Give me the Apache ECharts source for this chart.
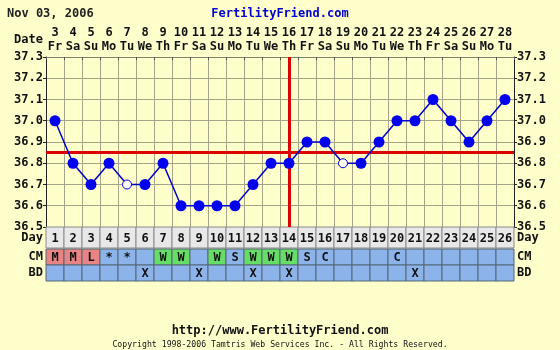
<!DOCTYPE html>
<html><head><meta charset="utf-8">
<script src="https://cdn.jsdelivr.net/npm/echarts@6/dist/echarts.min.js"></script>
<style>html,body{margin:0;padding:0;background:#FFFFCC}#c{width:560px;height:350px}</style>
</head><body><div id="c"></div>
<script>
// ---- data ----
const dates = ['3','4','5','6','7','8','9','10','11','12','13','14','15','16','17','18','19','20','21','22','23','24','25','26','27','28'];
const weekdays = ['Fr','Sa','Su','Mo','Tu','We','Th','Fr','Sa','Su','Mo','Tu','We','Th','Fr','Sa','Su','Mo','Tu','We','Th','Fr','Sa','Su','Mo','Tu'];
const cycleDays = ['1','2','3','4','5','6','7','8','9','10','11','12','13','14','15','16','17','18','19','20','21','22','23','24','25','26'];
const temps = [37.0,36.8,36.7,36.8,36.7,36.7,36.8,36.6,36.6,36.6,36.6,36.7,36.8,36.8,36.9,36.9,36.8,36.8,36.9,37.0,37.0,37.1,37.0,36.9,37.0,37.1];
const openPoints = ['5','17'];          // cycle days drawn as open circles
const coverline = 36.85;
const ovulationDay = '16';               // date of cycle day 14
const cm = ['M','M','L','*','*','','W','W','','W','S','W','W','W','S','C','','','','C','','','','','',''];
const bd = ['','','','','','X','','','X','','','X','','X','','','','','','','X','','','','',''];
const tempTicks = [36.5,37.3,0.1];

const FONT = '"DejaVu Sans Mono", monospace';
const cmColor = {M:'#E88484', L:'#E88484', W:'#66DD66'};
const blue = '#8CB4EA';

const chart = echarts.init(document.getElementById('c'), null, {renderer:'canvas'});

function cellRender(bgFn, border){
  return function(params, api){
    const c = api.coord([api.value(0), api.value(1)]);
    const s = api.size([1,1]);
    const idx = params.dataIndex;
    const txt = api.value(2);
    return {type:'group', children:[
      {type:'rect', shape:{x:c[0]-s[0]/2, y:c[1]-s[1]/2, width:s[0], height:s[1]},
       style:{fill:bgFn(txt), stroke:border, lineWidth:1}},
      {type:'text', style:{text:txt, x:c[0], y:c[1]+1, textAlign:'center', textVerticalAlign:'middle',
       font:'bold 12px '+FONT, fill:'#111'}}
    ]};
  };
}

const dayData = cycleDays.map((d,i)=>[d,'Day',d]);
const cmData = cycleDays.map((d,i)=>[d,'CM',cm[i]]);
const bdData = cycleDays.map((d,i)=>[d,'BD',bd[i]]);

const tempData = temps.map((t,i)=>{
  const open = openPoints.indexOf(cycleDays[i])>=0;
  return open ? {value:t, symbolSize:9, itemStyle:{color:'#FFFFFF', borderColor:'#0000DD', borderWidth:1}} : t;
});

const axisLbl = {fontFamily:FONT, fontWeight:'bold', fontSize:12, color:'#111'};

chart.setOption({
  backgroundColor:'#FFFFCC',
  animation:false,
  title:[
    {text:'Nov 03, 2006', left:2, top:3, textStyle:{fontFamily:FONT, fontWeight:'bold', fontSize:12, color:'#222'}},
    {text:'FertilityFriend.com', left:'center', top:3, textStyle:{fontFamily:FONT, fontWeight:'bold', fontSize:12, color:'#0000CC'}}
  ],
  graphic:[
    {type:'text', left:14, top:34, style:{text:'Date', font:'bold 12px '+FONT, fill:'#111'}},
    {type:'text', left:'center', top:325, style:{text:'http://www.FertilityFriend.com', font:'bold 12px '+FONT, fill:'#111'}},
    {type:'text', left:'center', top:341, style:{text:'Copyright 1998-2006 Tamtris Web Services Inc. - All Rights Reserved.', font:'8.2px '+FONT, fill:'#111'}}
  ],
  grid:[
    {left:46, top:57, width:468, height:170, show:true, backgroundColor:'#FFFFCC', borderWidth:0},
    {left:46, top:227, width:468, height:21},
    {left:46, top:249, width:468, height:32}
  ],
  xAxis:[
    {gridIndex:0, type:'category', data:dates, position:'top', boundaryGap:true,
     axisLine:{show:true, lineStyle:{color:'#808070'}},
     axisTick:{show:true, inside:true, length:3, lineStyle:{color:'#555'}},
     splitLine:{show:true, lineStyle:{color:'#A4A488', width:1}},
     axisLabel:Object.assign({}, axisLbl, {margin:3, lineHeight:14, interval:0,
       formatter:(v,i)=>v+'\n'+weekdays[i]})},
    {gridIndex:1, type:'category', data:cycleDays, show:false},
    {gridIndex:2, type:'category', data:cycleDays, show:false}
  ],
  yAxis:[
    {gridIndex:0, type:'value', min:tempTicks[0], max:tempTicks[1], interval:tempTicks[2], position:'left',
     axisLine:{show:true, lineStyle:{color:'#222', width:1}},
     axisTick:{show:true, length:3, lineStyle:{color:'#222'}},
     splitLine:{show:true, lineStyle:{color:'#A4A488', width:1}},
     axisLabel:Object.assign({}, axisLbl, {margin:3, formatter:v=>v.toFixed(1)})},
    {gridIndex:0, type:'value', min:tempTicks[0], max:tempTicks[1], interval:tempTicks[2], position:'right',
     axisLine:{show:true, lineStyle:{color:'#222', width:1}},
     axisTick:{show:true, length:3, lineStyle:{color:'#222'}},
     splitLine:{show:false},
     axisLabel:Object.assign({}, axisLbl, {margin:3, formatter:v=>v.toFixed(1)})},
    {gridIndex:1, type:'category', data:['Day'], position:'left', axisLine:{show:false}, axisTick:{show:false},
     axisLabel:Object.assign({}, axisLbl, {margin:3})},
    {gridIndex:1, type:'category', data:['Day'], position:'right', axisLine:{show:false}, axisTick:{show:false},
     axisLabel:Object.assign({}, axisLbl, {margin:3})},
    {gridIndex:2, type:'category', data:['BD','CM'], position:'left', axisLine:{show:false}, axisTick:{show:false},
     axisLabel:Object.assign({}, axisLbl, {margin:3})},
    {gridIndex:2, type:'category', data:['BD','CM'], position:'right', axisLine:{show:false}, axisTick:{show:false},
     axisLabel:Object.assign({}, axisLbl, {margin:3})}
  ],
  series:[
    {type:'line', xAxisIndex:0, yAxisIndex:0, data:tempData, symbol:'circle', symbolSize:11,
     lineStyle:{color:'#0000CC', width:1.5}, itemStyle:{color:'#0000EE'}, z:5,
     markLine:{silent:true, symbol:'none', label:{show:false}, z:3,
       lineStyle:{color:'#DD0000', width:3, type:'solid'},
       data:[{yAxis:coverline},{xAxis:ovulationDay}]}},
    {type:'custom', xAxisIndex:1, yAxisIndex:2, data:dayData,
     renderItem:cellRender(()=> '#E8E8E8', '#8A8A8A')},
    {type:'custom', xAxisIndex:2, yAxisIndex:4, data:cmData,
     renderItem:cellRender(t=> cmColor[t] || blue, '#556677')},
    {type:'custom', xAxisIndex:2, yAxisIndex:4, data:bdData,
     renderItem:cellRender(()=> blue, '#556677')}
  ]
});
</script></body></html>
